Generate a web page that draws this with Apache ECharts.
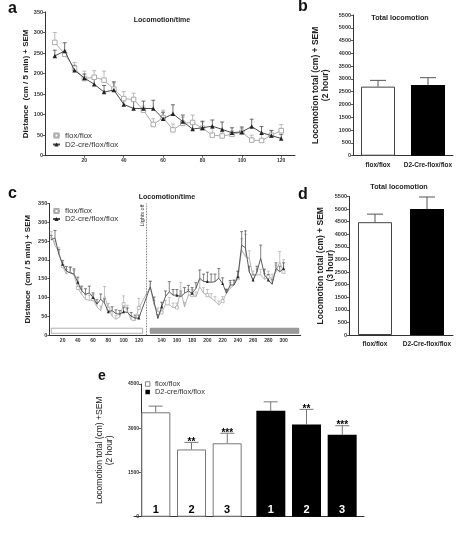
<!DOCTYPE html>
<html><head><meta charset="utf-8">
<script src="https://cdn.jsdelivr.net/npm/echarts@6/dist/echarts.min.js"></script>
<style>html,body{margin:0;padding:0;background:#fff}#c{width:467px;height:536px}</style>
</head><body><div id="c"></div>
<script>
// ---------- Panel a : Locomotion/time (2 h) ----------
const aX = [5,10,15,20,25,30,35,40,45,50,55,60,65,70,75,80,85,90,95,100,105,110,115,120];
const aFlox    = [276,247,213,188,191,184,162,139,137,111,76,93,63,79,81,67,50,48,52,57,38,37,50,61];
const aFloxErr = [24,10,14,18,16,22,15,17,15,10,14,18,14,15,18,15,16,10,8,10,12,15,12,15];
const aD2      = [243,255,208,189,174,155,160,125,115,115,115,90,102,83,65,68,72,64,56,58,71,56,49,42];
const aD2Err   = [14,20,12,10,14,16,20,16,18,18,20,16,22,16,15,16,15,18,12,12,18,15,12,10];
const aXTicks  = [20,40,60,80,100,120];

// ---------- Panel b : Total locomotion (2 h) ----------
const bCats = ['flox/flox','D2-Cre-flox/flox'];
const bVals = [2700,2765];
const bErr  = [245,285];

// ---------- Panel c : Locomotion/time (light / dark) ----------
const cLeftX  = [5,10,15,20,25,30,35,40,45,50,55,60,65,70,75,80,85,90,95,100,105,110,115,120];
const cLeftD2      = [253,258,215,188,170,165,162,140,118,108,112,100,82,95,85,62,65,57,55,62,60,50,45,45];
const cLeftD2Err   = [12,20,12,10,12,15,14,14,12,15,18,12,12,14,12,10,10,10,10,12,12,10,8,8];
const cLeftFlox    = [265,238,222,183,162,170,158,125,108,95,92,95,75,65,105,70,50,42,48,82,65,40,38,72];
const cLeftFloxErr = [10,12,10,10,12,12,14,16,14,12,14,12,12,12,24,14,12,10,10,22,14,10,8,25];
const cRightX = [125,130,135,140,145,150,155,160,165,170,175,180,185,190,195,200,205,210,215,220,225,230,235,240,245,250,255,260,265,270,275,280,285,290,295,300];
const cRightD2      = [128,89,44,75,102,115,106,106,102,111,117,111,124,151,142,142,140,142,151,137,111,133,133,155,239,232,168,146,168,204,160,146,135,177,168,177];
const cRightD2Err   = [15,12,10,12,15,27,15,15,15,15,15,15,15,22,20,25,22,20,26,15,10,12,12,15,36,45,15,15,15,35,15,15,12,15,15,15];
const cRightFlox    = [128,80,62,60,80,80,73,73,120,75,106,106,102,128,111,106,98,90,80,90,111,124,133,151,226,208,204,155,160,160,148,155,150,168,195,168];
const cRightFloxErr = [15,12,10,10,12,20,12,12,20,12,15,15,12,18,15,15,12,12,10,12,12,15,15,18,30,60,20,15,15,15,15,15,12,18,27,32];
const cGapCats = ['gap1','gap2'];
const cEndCats = ['end1','end2','end3','end4'];

// ---------- Panel d : Total locomotion (3 h) ----------
const dCats = ['flox/flox','D2-Cre-flox/flox'];
const dVals = [4480,5000];
const dErr  = [320,480];

// ---------- Panel e ----------
const eGroups = ['flox/flox','D2-cre/flox/flox'];
const eConds  = ['1','2','3'];
const eFlox    = [3540,2280,2490];
const eFloxErr = [210,240,340];
const eD2      = [3590,3130,2780];
const eD2Err   = [305,510,305];
const eFloxStars = ['','**','***'];
const eD2Stars   = ['','**','***'];

const FONT = 'Liberation Sans, Arial, Helvetica, sans-serif';
const chart = echarts.init(document.getElementById('c'));

function errRender(color, cap, w) {
  return function (params, api) {
    const x = api.value(0), y = api.value(1), e = api.value(2);
    const p0 = api.coord([x, y]), p1 = api.coord([x, y + e]);
    return {type:'group', children:[
      {type:'line', shape:{x1:p0[0], y1:p0[1], x2:p1[0], y2:p1[1]}, style:{stroke:color, lineWidth:w||0.8}},
      {type:'line', shape:{x1:p1[0]-cap, y1:p1[1], x2:p1[0]+cap, y2:p1[1]}, style:{stroke:color, lineWidth:w||0.8}}
    ]};
  };
}
const plain = v => String(v);

function yAx(grid, max, interval, name, nameGap, fontSize, bold, extra) {
  return Object.assign({
    type:'value', gridIndex:grid, min:0, max:max, interval:interval,
    axisLine:{show:true, lineStyle:{color:'#333', width:1}},
    axisTick:{show:true, length:2, lineStyle:{color:'#333', width:0.8}},
    axisLabel:{fontSize:5.5, color:'#333', margin:2, fontWeight:'bold', formatter:plain},
    splitLine:{show:false},
    name:name, nameLocation:'middle', nameGap:nameGap, nameRotate:90, nameMoveOverlap:false,
    nameTextStyle:{fontSize:fontSize, fontWeight:bold?'bold':'normal', color:'#222', lineHeight:fontSize+2}
  }, extra || {});
}
const xLine = {show:true, lineStyle:{color:'#333', width:1}};

const cCats = cLeftX.map(String).concat(cGapCats, cRightX.map(String), cEndCats);
const blanks = n => new Array(n).fill('-');
const cFloxLine = cLeftFlox.concat(blanks(2), cRightFlox, blanks(4));
const cD2Line   = cLeftD2.concat(blanks(2), cRightD2, blanks(4));
const cFloxErrData = cLeftX.map((x,i)=>[String(x), cLeftFlox[i], cLeftFloxErr[i]])
  .concat(cRightX.map((x,i)=>[String(x), cRightFlox[i], cRightFloxErr[i]]));
const cD2ErrData = cLeftX.map((x,i)=>[String(x), cLeftD2[i], cLeftD2Err[i]])
  .concat(cRightX.map((x,i)=>[String(x), cRightD2[i], cRightD2Err[i]]));
const every20 = (i, v) => Number(v) % 20 === 0;

const FLOX_C = '#ababab', D2_C = '#4a4a4a';

const floxStyle = {symbol:'rect', itemStyle:{color:'#fff', borderColor:FLOX_C, borderWidth:1}, lineStyle:{color:FLOX_C, width:1}};
const d2Style   = {symbol:'triangle', itemStyle:{color:'#222'}, lineStyle:{color:D2_C, width:1}};

// panel e error bars + stars
const barShift = 35.8;
const eErrData = [];
eConds.forEach((c,i)=>{
  eErrData.push([0, eFlox[i], eFloxErr[i], i, eFloxStars[i]]);
  eErrData.push([1, eD2[i], eD2Err[i], i, eD2Stars[i]]);
});

const option = {
  animation:false,
  textStyle:{fontFamily:FONT},
  grid:[
    {left:45, top:12, width:250, height:143.7},
    {left:353, top:15, width:100, height:140.7},
    {left:49.3, top:203.4, width:251.4, height:131.6},
    {left:349, top:196.5, width:104, height:138.5},
    {left:134, top:384, width:230, height:132.7}
  ],
  legend:[
    {left:52, top:131.5, padding:0, orient:'vertical', itemGap:1, itemWidth:7, itemHeight:5, selectedMode:false,
     textStyle:{fontSize:8, color:'#333'}, data:['flox/flox','D2-cre/flox/flox']},
    {left:52, top:207, padding:0, orient:'vertical', itemGap:0, itemWidth:7, itemHeight:5, selectedMode:false,
     textStyle:{fontSize:8, color:'#333'}, data:['flox/flox','D2-cre/flox/flox']},
    {left:145, top:380, padding:0, orient:'vertical', itemGap:0, itemWidth:4.5, itemHeight:4.5, selectedMode:false, icon:'rect',
     textStyle:{fontSize:7.5, color:'#333'},
     formatter: n => n === 'eFloxLeg' ? 'flox/flox' : 'D2-cre/flox/flox',
     data:[{name:'eFloxLeg', itemStyle:{color:'#fff', borderColor:'#666', borderWidth:0.8}},
           {name:'eD2Leg', itemStyle:{color:'#000'}}]}
  ],
  xAxis:[
    {type:'value', gridIndex:0, min:0, max:127, axisLine:xLine, splitLine:{show:false},
     axisTick:{customValues:aXTicks, length:2, lineStyle:{color:'#333', width:0.8}},
     axisLabel:{customValues:aXTicks, fontSize:5, color:'#333', margin:2, fontWeight:'bold'}},
    {type:'category', gridIndex:1, data:bCats, axisLine:xLine,
     axisTick:{alignWithLabel:true, length:2, lineStyle:{color:'#333'}},
     axisLabel:{fontSize:6.5, fontWeight:'bold', color:'#222', margin:6, interval:0}},
    {type:'category', gridIndex:2, data:cCats, boundaryGap:true, axisLine:xLine,
     axisTick:{interval:every20, alignWithLabel:true, length:2, lineStyle:{color:'#333', width:0.8}},
     axisLabel:{interval:every20, fontSize:5, color:'#333', margin:3, fontWeight:'bold'}},
    {type:'category', gridIndex:3, data:dCats, axisLine:xLine,
     axisTick:{alignWithLabel:true, length:2, lineStyle:{color:'#333'}},
     axisLabel:{fontSize:6.5, fontWeight:'bold', color:'#222', margin:6, interval:0}},
    {type:'category', gridIndex:4, data:eGroups, axisLine:xLine, axisTick:{show:false}, axisLabel:{show:false}}
  ],
  yAxis:[
    yAx(0, 350, 50, 'Distance  (cm / 5 min) + SEM', 14, 8, true),
    yAx(1, 5500, 500, 'Locomotion total (cm) + SEM\n(2 hour)', 22, 8.5, true),
    yAx(2, 350, 50, 'Distance  (cm / 5 min) + SEM', 17, 8, true),
    yAx(3, 5500, 500, 'Locomotion total (cm) + SEM\n(3 hour)', 13, 8.5, true),
    yAx(4, 4500, 1500, 'Locomotion total (cm) +SEM\n(2 hour)', 26, 8.5, false,
        {offset:-7, axisLabel:{fontSize:5, color:'#333', margin:2, fontWeight:'bold', formatter:plain}})
  ],
  graphic:[
    {type:'text', left:8, top:1, style:{text:'a', fontSize:16, fontWeight:'bold', fill:'#111', fontFamily:FONT}},
    {type:'text', left:298, top:-1, style:{text:'b', fontSize:16, fontWeight:'bold', fill:'#111', fontFamily:FONT}},
    {type:'text', left:8, top:186, style:{text:'c', fontSize:16, fontWeight:'bold', fill:'#111', fontFamily:FONT}},
    {type:'text', left:298, top:187, style:{text:'d', fontSize:16, fontWeight:'bold', fill:'#111', fontFamily:FONT}},
    {type:'text', left:98, top:369, style:{text:'e', fontSize:14, fontWeight:'bold', fill:'#111', fontFamily:FONT}},
    {type:'text', x:162, y:20, style:{text:'Locomotion/time', fontSize:7, fontWeight:'bold', fill:'#222', align:'center', verticalAlign:'middle', fontFamily:FONT}},
    {type:'text', x:167, y:197, style:{text:'Locomotion/time', fontSize:7, fontWeight:'bold', fill:'#222', align:'center', verticalAlign:'middle', fontFamily:FONT}},
    {type:'text', x:400, y:18, style:{text:'Total locomotion', fontSize:7.2, fontWeight:'bold', fill:'#222', align:'center', verticalAlign:'middle', fontFamily:FONT}},
    {type:'text', x:399, y:187, style:{text:'Total locomotion', fontSize:7.2, fontWeight:'bold', fill:'#222', align:'center', verticalAlign:'middle', fontFamily:FONT}}
  ],
  series:[
    // ---- a ----
    {type:'custom', xAxisIndex:0, yAxisIndex:0, silent:true, z:1, renderItem:errRender(FLOX_C,2),
     data:aX.map((x,i)=>[x,aFlox[i],aFloxErr[i]])},
    {type:'custom', xAxisIndex:0, yAxisIndex:0, silent:true, z:1, renderItem:errRender(D2_C,2),
     data:aX.map((x,i)=>[x,aD2[i],aD2Err[i]])},
    Object.assign({type:'line', name:'flox/flox', xAxisIndex:0, yAxisIndex:0, symbolSize:4.5, z:3,
     data:aX.map((x,i)=>[x,aFlox[i]])}, floxStyle),
    Object.assign({type:'line', name:'D2-cre/flox/flox', xAxisIndex:0, yAxisIndex:0, symbolSize:4.5, z:4,
     data:aX.map((x,i)=>[x,aD2[i]])}, d2Style),
    // ---- b ----
    {type:'bar', xAxisIndex:1, yAxisIndex:1, barWidth:34, silent:true,
     data:[{value:bVals[0], itemStyle:{color:'#fff', borderColor:'#444', borderWidth:1}},
           {value:bVals[1], itemStyle:{color:'#000'}}]},
    {type:'custom', xAxisIndex:1, yAxisIndex:1, silent:true, z:1, renderItem:errRender('#555',8,1),
     data:bCats.map((c,i)=>[i,bVals[i],bErr[i]])},
    // ---- c ----
    {type:'custom', xAxisIndex:2, yAxisIndex:2, silent:true, z:1, renderItem:errRender(FLOX_C,1.5,0.7),
     data:cFloxErrData},
    {type:'custom', xAxisIndex:2, yAxisIndex:2, silent:true, z:1, renderItem:errRender(D2_C,1.5,0.7),
     data:cD2ErrData},
    Object.assign({type:'line', name:'flox/flox', xAxisIndex:2, yAxisIndex:2, symbolSize:3, connectNulls:true, z:3,
     data:cFloxLine,
     markArea:{silent:true, data:[
       [{xAxis:'5', yAxis:4.5, itemStyle:{color:'#fff', borderColor:'#999', borderWidth:0.8}}, {xAxis:'gap1', yAxis:18}],
       [{xAxis:'125', yAxis:4.5, itemStyle:{color:'#9a9a9a', borderColor:'#888', borderWidth:0.8}}, {xAxis:'end4', yAxis:18}]
     ]}}, floxStyle, {lineStyle:{color:FLOX_C, width:0.9}, itemStyle:{color:'#fff', borderColor:FLOX_C, borderWidth:0.8}}),
    Object.assign({type:'line', name:'D2-cre/flox/flox', xAxisIndex:2, yAxisIndex:2, symbolSize:3, connectNulls:true, z:4,
     data:cD2Line,
     markLine:{silent:true, symbol:'none', animation:false,
       lineStyle:{type:'dotted', color:'#555', width:0.8},
       label:{show:true, formatter:'Lights off', position:'insideEndTop', fontSize:5.5, color:'#333', distance:1},
       data:[{xAxis:'gap2'}]}}, d2Style, {lineStyle:{color:D2_C, width:0.9}}),
    // ---- d ----
    {type:'bar', xAxisIndex:3, yAxisIndex:3, barWidth:34, silent:true,
     data:[{value:dVals[0], itemStyle:{color:'#fff', borderColor:'#444', borderWidth:1}},
           {value:dVals[1], itemStyle:{color:'#000'}}]},
    {type:'custom', xAxisIndex:3, yAxisIndex:3, silent:true, z:1, renderItem:errRender('#555',8,1),
     data:dCats.map((c,i)=>[i,dVals[i],dErr[i]])},
    // ---- e ----
    ...eConds.map((c,i)=>({
      type:'bar', name:'cond'+c, xAxisIndex:4, yAxisIndex:4, barWidth:29, barGap:'23%', silent:true,
      label:{show:true, position:'insideBottom', formatter:c, fontSize:11, fontWeight:'bold', distance:1},
      data:[{value:eFlox[i], itemStyle:{color:'#fff', borderColor:'#777', borderWidth:1}, label:{color:'#000'}},
            {value:eD2[i], itemStyle:{color:'#000'}, label:{color:'#fff'}}]
    })),
    {type:'custom', xAxisIndex:4, yAxisIndex:4, silent:true, z:1, data:eErrData,
     renderItem:function(params, api){
       const g = api.value(0), v = api.value(1), e = api.value(2), k = api.value(3);
       const star = eErrData[params.dataIndex][4];
       const dx = (k-1)*barShift;
       const p0 = api.coord([g, v]), p1 = api.coord([g, v+e]);
       const x = p0[0]+dx;
       const ch = [
         {type:'line', shape:{x1:x, y1:p0[1], x2:x, y2:p1[1]}, style:{stroke:'#777', lineWidth:1}},
         {type:'line', shape:{x1:x-7, y1:p1[1], x2:x+7, y2:p1[1]}, style:{stroke:'#777', lineWidth:1}}
       ];
       if (star) ch.push({type:'text', x:x, y:p1[1]+5, style:{text:star, fontSize:10, fontWeight:'bold', fill:'#000', align:'center', verticalAlign:'bottom', fontFamily:FONT}});
       return {type:'group', children:ch};
     }},
    {type:'line', name:'eFloxLeg', xAxisIndex:4, yAxisIndex:4, data:[]},
    {type:'line', name:'eD2Leg', xAxisIndex:4, yAxisIndex:4, data:[]}
  ]
};
chart.setOption(option);
</script>
</body></html>
